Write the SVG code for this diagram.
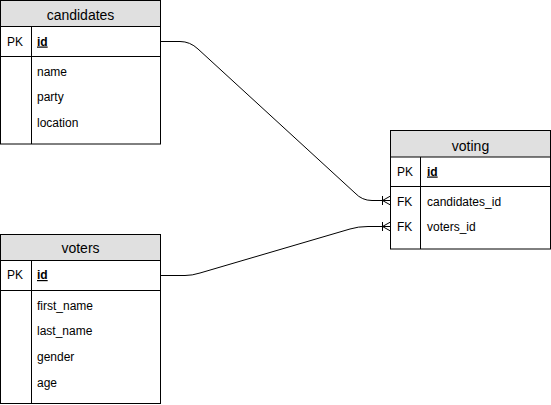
<svg xmlns="http://www.w3.org/2000/svg" width="551" height="405" viewBox="0 0 551 405">
<style>
.box{fill:#ffffff;stroke:#000000;stroke-width:1}
.hdr{fill:#e0e0e0;stroke:#000000;stroke-width:1}
.ln{stroke:#000000;stroke-width:1;fill:none}
.t{font-family:"Liberation Sans",Arial,sans-serif;font-size:12px;fill:#000000}
.h{font-family:"Liberation Sans",Arial,sans-serif;font-size:14px;fill:#000000;text-anchor:middle}
.k{font-family:"Liberation Sans",Arial,sans-serif;font-size:12px;fill:#000000;font-weight:bold;text-decoration:underline}
</style>
<rect width="551" height="405" fill="#ffffff"/>
<g id="candidates">
<rect class="box" x="0.5" y="0.5" width="160" height="143.5"/>
<rect class="hdr" x="0.5" y="0.5" width="160" height="26"/>
<line class="ln" x1="0.5" y1="56.5" x2="160.5" y2="56.5"/>
<line class="ln" x1="31.5" y1="26.5" x2="31.5" y2="144"/>
<text class="h" x="80.5" y="19.5">candidates</text>
<text class="t" x="7" y="45.5">PK</text>
<text class="k" x="37" y="45.5">id</text>
<text class="t" x="37" y="75.5">name</text>
<text class="t" x="37" y="101">party</text>
<text class="t" x="37" y="126.5">location</text>
</g>
<g id="voters">
<rect class="box" x="0.5" y="234.5" width="160" height="169"/>
<rect class="hdr" x="0.5" y="234.5" width="160" height="26"/>
<line class="ln" x1="0.5" y1="290.5" x2="160.5" y2="290.5"/>
<line class="ln" x1="31.5" y1="260.5" x2="31.5" y2="403.5"/>
<text class="h" x="80.5" y="252.5">voters</text>
<text class="t" x="7" y="279">PK</text>
<text class="k" x="37" y="279">id</text>
<text class="t" x="37" y="309.5">first_name</text>
<text class="t" x="37" y="335">last_name</text>
<text class="t" x="37" y="361">gender</text>
<text class="t" x="37" y="387">age</text>
</g>
<g id="voting">
<rect class="box" x="390.5" y="130.5" width="160" height="118.5"/>
<rect class="hdr" x="390.5" y="130.5" width="160" height="26.5"/>
<line class="ln" x1="390.5" y1="186.5" x2="550.5" y2="186.5"/>
<line class="ln" x1="420.5" y1="157" x2="420.5" y2="249"/>
<text class="h" x="470.5" y="150.5">voting</text>
<text class="t" x="397" y="175.5">PK</text>
<text class="k" x="427" y="175.5">id</text>
<text class="t" x="397" y="206">FK</text>
<text class="t" x="427" y="206">candidates_id</text>
<text class="t" x="397" y="231">FK</text>
<text class="t" x="427" y="231">voters_id</text>
</g>
<g id="connectors">
<path class="ln" d="M160.5 41.5 H180 Q190 41.5 198 49 L355 193 Q362 200.5 372 200.5 H390.5"/>
<path class="ln" d="M382.5 196 V205 M382.5 200.5 L390.5 196 M382.5 200.5 L390.5 205"/>
<path class="ln" d="M160.5 275.5 H185 Q192 275.5 200 273 L350 229 Q358 226.5 368 226.5 H390.5"/>
<path class="ln" d="M382.5 222 V231 M382.5 226.5 L390.5 222 M382.5 226.5 L390.5 231"/>
</g>
</svg>
